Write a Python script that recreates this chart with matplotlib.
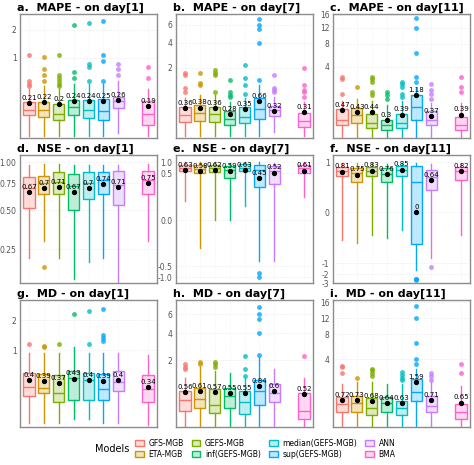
import numpy as np
import matplotlib
matplotlib.use("Agg")
import matplotlib.pyplot as plt
from matplotlib.patches import Rectangle

models = ["GFS-MGB", "ETA-MGB", "GEFS-MGB", "inf(GEFS-MGB)", "median(GEFS-MGB)",
          "sup(GEFS-MGB)", "ANN", "BMA"]
colors = ["#F8766D", "#CD9600", "#7CAE00", "#00BE67", "#00BFC4", "#00A9FF", "#C77CFF", "#FF61CC"]
positions = [1, 2, 3, 4, 5, 6, 7, 9]

titles = ["a.  MAPE - on day[1]", "b.  MAPE - on day[7]", "c.  MAPE - on day[11]",
          "d.  NSE - on day[1]", "e.  NSE - on day[7]", "f.  NSE - on day[11]",
          "g.  MD - on day[1]", "h.  MD - on day[7]", "i.  MD - on day[11]"]

# per panel, per model: [whislo, q1, med, q3, whishi]
box_a = [[0, .12, .16, .23, .45], [0, .11, .16, .23, .5], [0, .09, .13, .2, .45], [0, .12, .18, .27, .55],
         [0, .10, .16, .27, .55], [0, .09, .15, .28, .55], [.02, .17, .24, .32, .6], [0, .06, .13, .24, .45]]
mean_a = [.21, .22, .20, .24, .24, .25, .26, .19]
fl_a = [[.5, .55, .6, 1.1], [.6, .7, .8, 1.05], [.5, .55, .6, .65, .7, 1.1], [.65, .75, 2.2],
        [.6, .85, .9, 2.3], [.6, .95, 1.1, 2.4], [.7, .8, .9], [.65, .85]]

box_b = [[0, .18, .27, .4, .75], [0, .2, .3, .48, .9], [0, .18, .28, .42, .9], [0, .15, .22, .32, .6],
         [0, .17, .25, .4, .75], [0, .22, .35, .75, 1.3], [.05, .26, .34, .45, .8], [0, .12, .2, .3, .6]]
mean_b = [.36, .38, .36, .28, .35, .66, .32, .31]
fl_b = [[1.0, 1.2, 1.7, 1.8], [1.3, 1.4, 1.8], [1.0, 1.7, 1.8, 1.9], [.8, .9, 1.0, 1.5],
        [.95, 1.3, 1.6, 2.2], [1.5, 4, 5.5, 6, 6.8], [1.0, 1.1, 1.2, 1.7], [.8, 1.0, 1.1, 1.3, 2.0]]

box_c = [[0, .2, .3, .5, .9], [0, .25, .38, .55, 1.0], [0, .15, .25, .4, .9], [0, .12, .2, .3, .7],
         [0, .15, .25, .4, .9], [0, .3, .6, 1.2, 1.9], [0, .2, .3, .45, .8], [0, .12, .2, .35, .8]]
mean_c = [.47, .43, .44, .30, .39, 1.18, .37, .39]
fl_c = [[1.3, 2.8, 3.0], [2.0], [1.2, 1.5, 2.5, 2.8, 3.0], [1.0, 1.2, 1.5], [1.1, 1.3, 2.0, 2.3, 2.5],
        [2.5, 3.0, 6.5, 12, 15], [1.0, 1.3, 1.7, 2.3], [1.5, 2.0, 3.0]]

box_d = [[.2, .52, .7, .82, .97], [.3, .65, .75, .83, .98], [.2, .65, .76, .88, .98], [.08, .5, .72, .86, .97],
         [.18, .6, .75, .88, .97], [.2, .65, .78, .88, .97], [.05, .55, .73, .89, .97], [.3, .65, .78, .89, .98]]
mean_d = [.67, .70, .71, .67, .70, .74, .71, .75]
fl_d = [[], [.15], [], [], [], [], [], []]

box_e = [[.2, .6, .75, .88, .98], [-.3, .5, .7, .85, .98], [0, .55, .72, .88, .98], [0, .45, .65, .82, .97],
         [.15, .58, .75, .9, .98], [-.45, .35, .65, .85, .98], [-.45, .38, .6, .8, .97], [.25, .52, .72, .85, .98]]
mean_e = [.63, .58, .62, .59, .63, .45, .52, .61]
fl_e = [[], [], [], [], [], [-.8, -1.0], [], []]

box_f = [[-.55, .72, .82, .9, .98], [-.6, .6, .78, .88, .98], [-.45, .72, .83, .9, .98], [-.5, .6, .76, .88, .97],
         [-.35, .72, .85, .92, .98], [-1.6, -.62, .6, .92, .98], [-.9, .45, .7, .85, .97], [-.45, .65, .82, .9, .98]]
mean_f = [.81, .75, .83, .76, .85, 0, .64, .82]
fl_f = [[], [], [], [], [], [-2.5, -2.6, -2.7], [-1.4], []]

box_g = [[.02, .26, .34, .55, .95], [.02, .28, .33, .52, .95], [.02, .2, .28, .5, .95], [.05, .22, .45, .58, 1.1],
         [.05, .22, .4, .55, .95], [.02, .22, .32, .52, .95], [.02, .3, .38, .58, .95], [0, .2, .32, .5, .9]]
mean_g = [.40, .39, .37, .43, .40, .39, .40, .34]
fl_g = [[1.2], [1.1, 1.15], [1.2], [2.2], [1.2, 2.3], [1.3, 1.4, 1.5, 2.4], [], []]

box_h = [[0, .25, .42, .6, 1.2], [0, .3, .45, .75, 1.7], [0, .22, .35, .7, 1.5], [0, .3, .5, .72, 1.4],
         [0, .2, .4, .6, 1.2], [0, .35, .6, 1.1, 2.2], [0, .4, .55, .9, 1.6], [0, .12, .25, .55, 1.2]]
mean_h = [.56, .61, .57, .55, .55, .84, .60, .52]
fl_h = [[1.6, 1.7, 1.8], [1.8, 1.9], [1.7, 1.8, 1.9], [], [1.3, 1.6, 2.3], [2.4, 4, 5.5, 6, 6.8], [], [2.3]]

box_i = [[0, .4, .6, .85, 1.5], [0, .4, .65, .9, 1.6], [0, .3, .5, .8, 1.6], [0, .4, .65, .85, 1.5],
         [0, .3, .5, .7, 1.5], [0, .7, 1.1, 1.9, 3.0], [0, .4, .55, .9, 1.6], [0, .2, .4, .6, 1.4]]
mean_i = [.72, .73, .68, .64, .63, 1.59, .71, .65]
fl_i = [[2.5, 3.2, 3.3], [2.0], [2.2, 2.5, 2.8, 3.0], [], [1.8, 2.0, 2.3, 2.6], [3.5, 4, 6.5, 12, 15],
        [1.8, 2.2, 2.5], [2.5, 3.5]]

yticks = [[1, 2], [2, 4, 6], [4, 8, 12, 16],
          [0.25, 0.5, 0.75, 1.0], [-1.0, -0.5, 0.0, 0.5, 1.0], [-3, -2, -1, 0, 1],
          [1, 2], [2, 4, 6], [4, 8, 12, 16]]
yticklabels = [["1", "2"], ["2", "4", "6"], ["4", "8", "12", "16"],
               ["0.25", "0.50", "0.75", "1.00"], ["-1.0", "-0.5", "0.0", "0.5", "1.0"],
               ["-3", "-2", "-1", "0", "1"], ["1", "2"], ["2", "4", "6"], ["4", "8", "12", "16"]]

# axis transform knots: (value, pixel row in image); emulate the nonlinear axes
knots = [
    ([-0.01, 0.1, 0.21, 1, 2, 2.7], [138, 118, 103, 58, 30, 14]),
    ([-0.02, 0.36, 2, 4, 6, 7.5], [138, 108, 68, 43, 25, 14]),
    ([-0.02, 0.47, 1.18, 4, 8, 12, 16, 17], [138, 110, 95, 67, 44, 28, 15, 14]),
    ([0.06, 0.25, 0.5, 0.75, 1.0, 1.08], [283, 249, 210, 183, 162, 155]),
    ([-1.5, -1, -0.5, 0, 0.5, 1, 1.5], [283, 277, 266, 220, 173, 162, 155]),
    ([-3.0, -2, -1, 0, 1, 1.14], [283, 274, 263, 212, 162, 155]),
    ([-0.02, 0.4, 1, 2, 2.7], [427, 380, 350, 320, 300]),
    ([-0.02, 0.56, 2, 4, 6, 7.6], [427, 392, 360, 333, 314, 300]),
    ([-0.02, 0.72, 1.59, 4, 8, 12, 16, 16.2], [427, 400, 382, 359, 334, 318, 302, 300]),
]

boxes = [box_a, box_b, box_c, box_d, box_e, box_f, box_g, box_h, box_i]
means = [mean_a, mean_b, mean_c, mean_d, mean_e, mean_f, mean_g, mean_h, mean_i]
fliers = [fl_a, fl_b, fl_c, fl_d, fl_e, fl_f, fl_g, fl_h, fl_i]

W, H = 474, 465
fig = plt.figure(figsize=(W / 100, H / 100), dpi=100)
cols = [(20, 157), (176, 313), (333, 470)]
rows = [(14, 138), (155, 283), (300, 427)]

for k in range(9):
    r, c = divmod(k, 3)
    x0, x1 = cols[c]
    y0, y1 = rows[r]
    ax = fig.add_axes([x0 / W, 1 - y1 / H, (x1 - x0) / W, (y1 - y0) / H])
    vals, px = knots[k]
    vals = np.array(vals, float)
    t = -np.array(px, float)
    fwd = lambda x, v=vals, t=t: np.interp(x, v, t)
    inv = lambda y, v=vals, t=t: np.interp(y, t, v)
    ax.set_yscale("function", functions=(fwd, inv))
    for i, (b, m, f) in enumerate(zip(boxes[k], means[k], fliers[k])):
        st = dict(whislo=b[0], q1=b[1], med=b[2], q3=b[3], whishi=b[4], fliers=f, mean=m)
        col = colors[i]
        ax.bxp([st], positions=[positions[i]], widths=0.75, patch_artist=True, showmeans=False,
               boxprops=dict(facecolor=col + "40", edgecolor=col, linewidth=1.0),
               medianprops=dict(color=col, linewidth=1.0),
               whiskerprops=dict(color=col, linewidth=1.0),
               capprops=dict(linewidth=0),
               flierprops=dict(marker="o", markerfacecolor=col, markeredgecolor="none", markersize=3.5, alpha=0.8))
        ax.plot(positions[i], m, "o", color="black", markersize=2.8, zorder=5)
        ax.annotate(f"{round(m, 2):g}", (positions[i], m), xytext=(0, 1.5),
                    textcoords="offset points", ha="center", va="bottom", fontsize=5, zorder=6)
    ax.set_xlim(0.4, 9.6)
    ax.set_ylim(vals[0], vals[-1])
    ax.set_yticks(yticks[k])
    ax.set_yticklabels(yticklabels[k])
    ax.yaxis.set_minor_locator(matplotlib.ticker.NullLocator())
    ax.set_xticks([])
    ax.tick_params(axis="y", length=0, labelsize=5.5, labelcolor="#555555", pad=2.5)
    ax.grid(True, axis="y", color="#e6e6e6", linewidth=0.6, linestyle=":")
    for xg in positions:
        ax.axvline(xg, color="#eeeeee", linewidth=0.5, linestyle=":", zorder=0)
    ax.set_axisbelow(True)
    for s in ax.spines.values():
        s.set_color("#8c8c8c")
        s.set_linewidth(1.0)
    ax.set_title(titles[k], loc="left", fontsize=8, fontweight="bold", pad=2, x=-0.02)

handles = [Rectangle((0, 0), 1, 1, facecolor=c + "40", edgecolor=c, linewidth=1.0) for c in colors]
fig.legend(handles, models, ncol=4, loc="center", bbox_to_anchor=(0.56, 0.035), frameon=False,
           fontsize=5.5, handlelength=1.1, handleheight=0.9, columnspacing=1.1, handletextpad=0.6,
           labelspacing=0.3)
fig.text(0.2, 0.035, "Models", fontsize=7, va="center")
fig.savefig("out.png", dpi=100)
